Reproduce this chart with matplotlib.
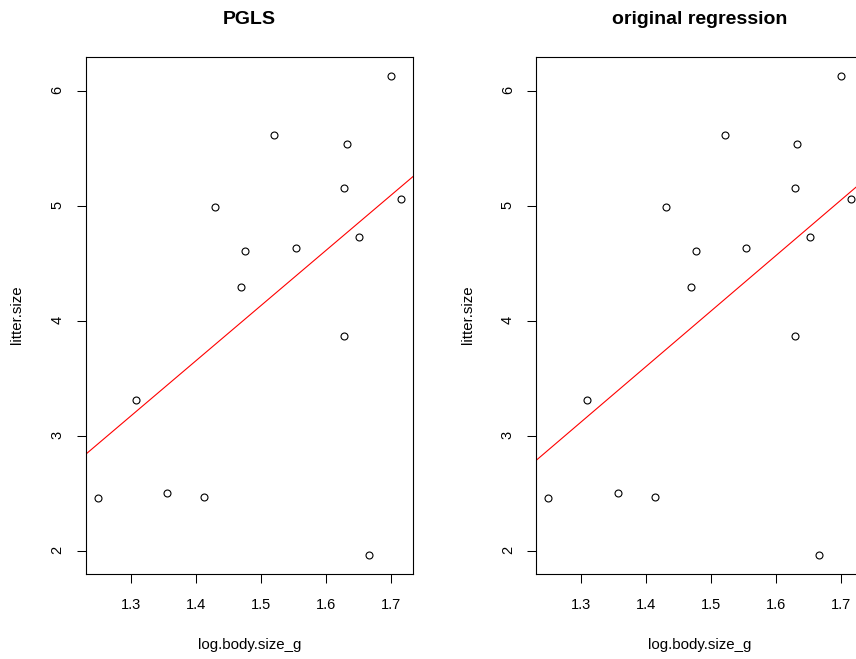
import numpy as np
import matplotlib
matplotlib.use('Agg')
import matplotlib.pyplot as plt

plt.rcParams['font.family'] = ['Liberation Sans', 'DejaVu Sans']

# data
log_body_size_g = [1.700, 1.521, 1.633, 1.629, 1.716, 1.430, 1.476, 1.554,
                   1.652, 1.469, 1.629, 1.308, 1.249, 1.356, 1.413, 1.667]
litter_size = [6.13, 5.62, 5.54, 5.16, 5.06, 4.99, 4.61, 4.64,
               4.73, 4.30, 3.87, 3.32, 2.46, 2.51, 2.47, 1.97]

titles = ['PGLS', 'original regression']
intercepts = [-3.036, -3.128]
slopes = [4.781, 4.812]

W, H = 856, 659
fig = plt.figure(figsize=(W / 100, H / 100), dpi=100)

x = np.array(log_body_size_g)
y = np.array(litter_size)


def r_lim(v):
    # R style axis range, 4% either side
    r = v.max() - v.min()
    return v.min() - 0.04 * r, v.max() + 0.04 * r


box_left = [86, 536.3]
box_w, box_top, box_bot = 327, 57, 574

for i in range(2):
    ax = fig.add_axes([box_left[i] / W, 1 - box_bot / H, box_w / W, (box_bot - box_top) / H])
    ax.plot(x, y, 'o', mfc='none', mec='black', ms=5, mew=0.8)
    ax.axline((0, intercepts[i]), slope=slopes[i], color='red', lw=0.8)
    ax.set_xlim(*r_lim(x))
    ax.set_ylim(*r_lim(y))
    ax.set_xticks([1.3, 1.4, 1.5, 1.6, 1.7])
    ax.set_yticks([2, 3, 4, 5, 6])
    ax.tick_params(direction='out', length=6.5, width=0.75, labelsize=10.5, pad=10.5)
    ax.tick_params(axis='y', labelrotation=90, pad=9)
    for s in ax.spines.values():
        s.set_linewidth(0.8)
    cx = box_left[i] + box_w / 2
    fig.text(cx / W, 1 - 19 / H, titles[i], ha='center', va='center',
             fontsize=14, fontweight='bold')
    fig.text(cx / W, 1 - 645 / H, 'log.body.size_g', ha='center', va='center', fontsize=10.8)
    fig.text((box_left[i] - 68.5) / W, 1 - 315 / H, 'litter.size', ha='center', va='center',
             rotation=90, fontsize=10.8)

fig.savefig('out.png', dpi=100)
